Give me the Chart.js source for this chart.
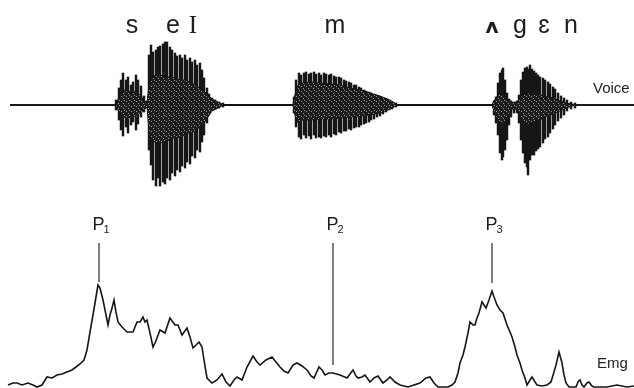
<!DOCTYPE html>
<html lang="en">
<head>
    <meta charset="UTF-8">
    <title>Voice and Emg</title>
    <style>
        body {
            margin: 0;
            background-color: #fff;
        }
        canvas {
            display: block;
        }
    </style>
</head>
<body>
    <canvas id="speechChart" width="634" height="388"></canvas>

    <script src="https://cdn.jsdelivr.net/npm/chart.js"></script>
    <script>
        // phonetic segments written above the voice trace
        const phonLabels = ['s', 'e', 'I', 'm', 'ʌ', 'g', 'ɛ', 'n'];
        const phonX = [132, 173, 193, 335, 492, 520, 544, 571];

        // voice: dense core of the waveform (upper / lower amplitude)
        const coreX = [115, 117, 120, 124, 128, 132, 136, 140, 144, 147,
            149, 152, 156, 160, 165, 170, 175, 180, 185, 190, 195, 200, 204, 208, 212, 216, 220, 224,
            293, 295, 298, 302, 310, 320, 330, 340, 350, 360, 370, 380, 390, 398,
            492, 494, 498, 502, 506, 510, 514, 518, 522, 526, 530, 535, 540, 545, 550, 555, 560, 566, 572, 576];
        const coreHi = [0, 2, 12, 15, 14, 12, 14, 10, 5, 2,
            20, 28, 30, 30, 28, 28, 27, 25, 25, 23, 20, 17, 14, 10, 6, 4, 2, 0,
            0, 10, 20, 22, 23, 22, 21, 20, 17, 15, 12, 9, 5, 0,
            0, 4, 10, 12, 8, 4, 2, 4, 10, 12, 12, 11, 10, 9, 8, 6, 4, 2, 1, 0];
        const coreLo = [0, -2, -10, -12, -14, -10, -12, -8, -5, -2,
            -25, -35, -38, -38, -36, -35, -33, -32, -30, -28, -26, -22, -18, -12, -6, -4, -2, 0,
            0, -10, -18, -15, -15, -14, -14, -13, -12, -11, -10, -8, -4, 0,
            0, -6, -15, -20, -15, -6, -3, -6, -15, -20, -18, -16, -15, -12, -10, -8, -6, -3, -1, 0];

        // voice: individual pitch pulses (peak above / below baseline)
        const pulseX = [116, 119, 121, 123, 126, 128, 131, 133, 136, 138, 141, 144, 147,
            149, 151, 153, 156, 158, 160, 163, 165, 167, 170, 172, 175, 177, 180, 182, 185, 187, 190,
            192, 195, 197, 200, 202, 204, 207, 209, 212, 215, 219, 223,
            294, 296, 299, 301, 304, 306, 309, 311, 314, 316, 319, 321, 324, 326, 329, 331, 334, 336,
            339, 341, 344, 346, 349, 351, 354, 356, 359, 361, 364, 366, 369, 371, 374, 377, 380, 383,
            386, 389, 392, 396,
            494, 496, 498, 500, 502, 503, 505, 507, 509, 511, 514, 517, 519, 521, 523, 525, 527, 528,
            530, 532, 534, 536, 538, 540, 543, 545, 548, 550, 553, 555, 558, 561, 564, 567, 571, 575];
        const pulseHi = [5, 17, 25, 32, 25, 28, 20, 23, 30, 25, 19, 9, 4,
            50, 60, 53, 55, 58, 59, 61, 63, 63, 58, 55, 52, 49, 50, 47, 50, 45, 47,
            43, 45, 40, 42, 35, 27, 17, 11, 7, 5, 3, 2,
            8, 25, 32, 30, 32, 33, 31, 32, 33, 31, 32, 30, 32, 31, 30, 31, 29, 28,
            28, 27, 25, 24, 23, 22, 20, 20, 18, 17, 15, 14, 13, 12, 10, 9, 8, 7,
            5, 4, 3, 2,
            4, 8, 22, 32, 35, 37, 25, 12, 6, 4, 3, 4, 10, 25, 33, 37, 38, 36,
            40, 36, 34, 32, 30, 28, 27, 25, 23, 21, 18, 16, 12, 9, 7, 5, 3, 2];
        const pulseLo = [-5, -15, -25, -31, -22, -28, -20, -17, -25, -19, -12, -7, -3,
            -45, -60, -75, -81, -73, -81, -77, -79, -73, -75, -68, -71, -65, -67, -61, -63, -57, -59,
            -51, -53, -45, -47, -37, -30, -18, -7, -5, -4, -3, -2,
            -8, -22, -32, -34, -30, -33, -31, -34, -30, -33, -32, -33, -31, -32, -30, -32, -29, -30,
            -27, -28, -26, -26, -24, -25, -23, -22, -22, -20, -19, -18, -17, -15, -14, -12, -11, -9,
            -7, -5, -4, -2,
            -10, -18, -30, -48, -55, -52, -45, -35, -20, -12, -8, -8, -18, -35, -48, -58, -62, -70,
            -55, -50, -50, -46, -44, -42, -38, -34, -32, -28, -24, -20, -16, -13, -10, -6, -4, -3];

        // voice baseline
        const baseX = [10, 634];
        const baseY = [0, 0];

        // emg trace (height above its baseline)
        const emgX = [8, 13, 17, 22, 28, 33, 37, 42, 47, 52, 57, 62, 67, 72, 76, 80, 84, 87, 90, 93,
            95, 98, 100, 103, 106, 108, 110, 112, 114, 116, 118, 122, 127, 133, 137, 140, 143, 145, 147, 150,
            153, 155, 157, 160, 165, 170, 175, 178, 182, 187, 190, 193, 196, 199, 202, 204, 207, 212, 217, 222,
            226, 230, 234, 237, 242, 247, 253, 257, 260, 266, 272, 276, 280, 284, 288, 293, 297, 302, 307, 311,
            314, 319, 322, 325, 329, 333, 340, 347, 350, 353, 356, 358, 362, 365, 370, 374, 378, 383, 387, 390,
            395, 400, 408, 414, 420, 426, 430, 434, 438, 443, 448, 452, 455, 458, 460, 463, 465, 468, 470, 473,
            475, 477, 479, 482, 486, 489, 492, 494, 497, 500, 503, 507, 510, 512, 515, 517, 520, 522, 525, 527,
            530, 532, 535, 537, 542, 547, 551, 554, 556, 559, 562, 564, 566, 569, 573, 576, 578, 580, 582, 584,
            587, 589, 592, 594, 601, 607, 617, 627, 634];
        const emgY = [3, 5, 5, 3, 5, 3, 1, 3, 11, 10, 13, 14, 16, 18, 21, 24, 28, 38, 56, 73,
            85, 103, 100, 88, 73, 63, 73, 80, 88, 76, 66, 61, 56, 56, 66, 66, 71, 66, 68, 55,
            41, 45, 50, 58, 55, 70, 63, 63, 53, 60, 51, 40, 43, 46, 41, 28, 10, 5, 8, 14,
            6, 2, 8, 11, 8, 21, 32, 26, 23, 28, 31, 26, 21, 17, 15, 23, 25, 22, 18, 12,
            10, 21, 18, 13, 15, 15, 13, 10, 14, 18, 12, 10, 11, 13, 6, 10, 12, 5, 8, 11,
            6, 3, 1, 3, 5, 10, 11, 5, 1, 1, 1, 3, 6, 15, 25, 33, 41, 55, 66, 63,
            63, 70, 75, 86, 80, 88, 97, 91, 83, 78, 75, 63, 56, 51, 41, 33, 25, 18, 10, 3,
            8, 11, 6, 3, 2, 3, 6, 16, 23, 36, 25, 13, 5, 1, 1, 1, 6, 8, 3, 1,
            5, 6, 2, 1, 1, 1, 3, 1, 2];

        // peak markers on the emg trace
        const markerLabels = ['P', 'P', 'P'];
        const markerSubs = ['1', '2', '3'];
        const markerX = [99, 333, 492];
        const markerTop = [145, 145, 145];
        const markerBottom = [106, 23, 105];

        const ink = '#161616';

        // speckled fill, like the grainy core of the oscillogram
        const tile = document.createElement('canvas');
        tile.width = 5;
        tile.height = 5;
        const tctx = tile.getContext('2d');
        tctx.fillStyle = '#1c1c1c';
        tctx.fillRect(0, 0, 5, 5);
        tctx.fillStyle = '#9a9a9a';
        tctx.fillRect(1, 1, 1, 1);
        tctx.fillRect(3, 3, 1, 1);
        tctx.fillRect(4, 0, 1, 1);
        const speckle = tctx.createPattern(tile, 'repeat');

        const markerSets = markerX.map((x, i) => ({
            type: 'line',
            data: [{ x: x, y: markerTop[i] }, { x: x, y: markerBottom[i] }],
            yAxisID: 'yE',
            borderColor: '#2a2a2a',
            borderWidth: 1.2,
            pointRadius: 0
        }));

        const textPlugin = {
            id: 'textLabels',
            afterDatasetsDraw(chart) {
                const ctx = chart.ctx;
                const x = chart.scales.x;
                const yV = chart.scales.yV;
                const yE = chart.scales.yE;
                ctx.save();
                ctx.fillStyle = '#1e1e1e';
                ctx.textBaseline = 'alphabetic';

                // phonetic transcription
                ctx.textAlign = 'center';
                phonLabels.forEach((t, i) => {
                    ctx.font = (t === 'I' ? '25px "Liberation Serif"' : '25px "Liberation Sans"');
                    if (t === 'ʌ') ctx.font = 'bold 20px "DejaVu Sans"';
                    ctx.fillText(t, x.getPixelForValue(phonX[i]), yV.getPixelForValue(72));
                });

                // P1, P2, P3
                markerX.forEach((mx, i) => {
                    const px = x.getPixelForValue(mx) - 6.5;
                    const py = yE.getPixelForValue(158);
                    ctx.textAlign = 'left';
                    ctx.font = '18px "Liberation Sans"';
                    ctx.fillText(markerLabels[i], px, py);
                    const w = ctx.measureText(markerLabels[i]).width;
                    ctx.font = '11px "Liberation Sans"';
                    ctx.fillText(markerSubs[i], px + w - 1, py + 3);
                });

                // trace names
                ctx.textAlign = 'left';
                ctx.font = '15px "Liberation Sans"';
                ctx.fillText('Voice', x.getPixelForValue(593), yV.getPixelForValue(12));
                ctx.fillText('Emg', x.getPixelForValue(597), yE.getPixelForValue(20));
                ctx.restore();
            }
        };

        new Chart(document.getElementById('speechChart'), {
            type: 'line',
            data: {
                datasets: [
                    {
                        label: 'core upper',
                        data: coreX.map((x, i) => ({ x: x, y: coreHi[i] })),
                        yAxisID: 'yV',
                        borderColor: '#111',
                        borderWidth: 1,
                        backgroundColor: speckle,
                        fill: '+1',
                        pointRadius: 0
                    },
                    {
                        label: 'core lower',
                        data: coreX.map((x, i) => ({ x: x, y: coreLo[i] })),
                        yAxisID: 'yV',
                        borderColor: '#111',
                        borderWidth: 1,
                        fill: false,
                        pointRadius: 0
                    },
                    {
                        type: 'bar',
                        label: 'Voice',
                        data: pulseX.map((x, i) => ({ x: x, y: [pulseLo[i], pulseHi[i]] })),
                        yAxisID: 'yV',
                        backgroundColor: ink,
                        barThickness: 1.8,
                        grouped: false
                    },
                    {
                        label: 'baseline',
                        data: baseX.map((x, i) => ({ x: x, y: baseY[i] })),
                        yAxisID: 'yV',
                        borderColor: '#1a1a1a',
                        borderWidth: 2,
                        pointRadius: 0
                    },
                    {
                        label: 'Emg',
                        data: emgX.map((x, i) => ({ x: x, y: emgY[i] })),
                        yAxisID: 'yE',
                        borderColor: ink,
                        borderWidth: 1.6,
                        pointRadius: 0,
                        tension: 0
                    },
                    ...markerSets
                ]
            },
            options: {
                responsive: false,
                animation: false,
                layout: { padding: 0 },
                plugins: {
                    legend: { display: false },
                    tooltip: { enabled: false }
                },
                scales: {
                    x: { type: 'linear', min: 0, max: 634, offset: false, display: false },
                    yV: { min: -283, max: 105, display: false },
                    yE: { min: 0, max: 388, display: false }
                }
            },
            plugins: [textPlugin]
        });
    </script>
</body>
</html>
